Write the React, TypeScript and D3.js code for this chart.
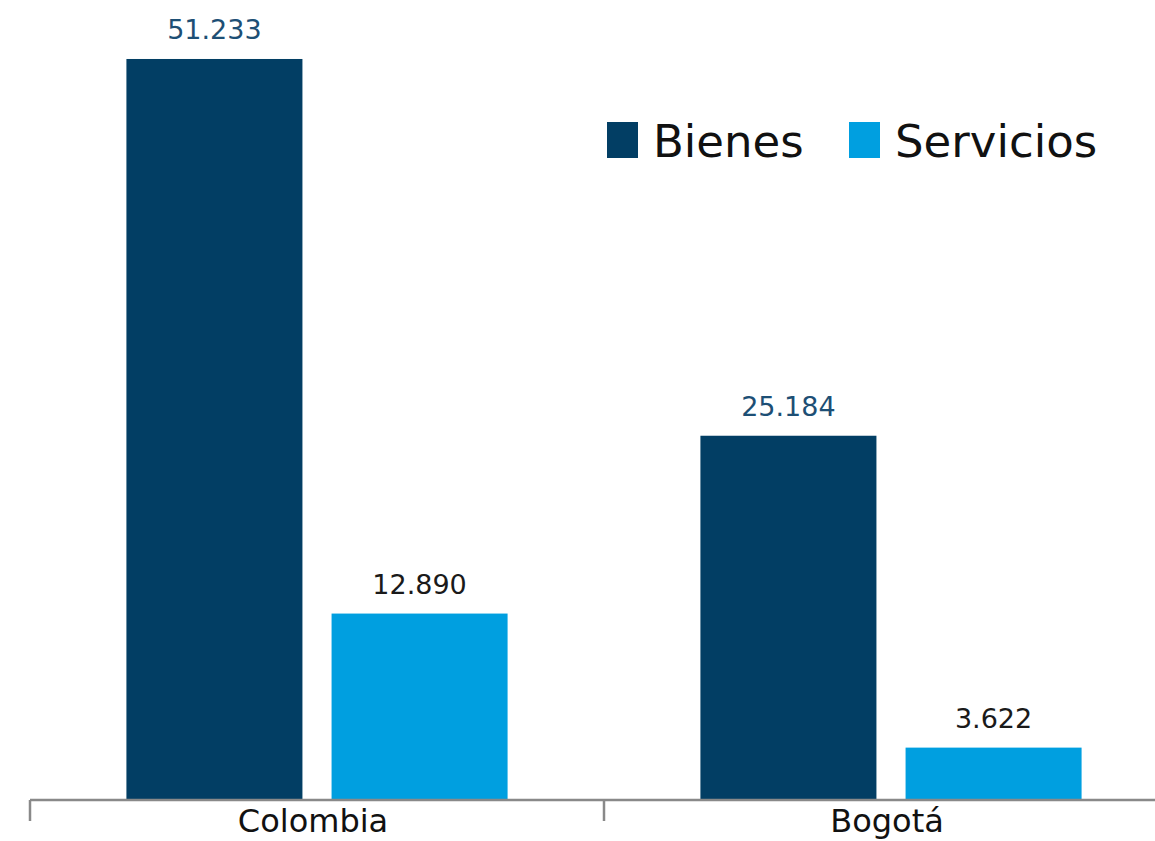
import React from 'react';
import * as d3 from 'd3';

const categories = ['Colombia', 'Bogotá'];
const series = ['Bienes', 'Servicios'];
const bienes = [51233, 25184];
const servicios = [12890, 3622];
const valueLabels = [['51.233', '12.890'], ['25.184', '3.622']];

const colors = ['#023e64', '#009fe0'];
const labelColors = ['#1d4f75', '#1a1a1a'];
const font = '"DejaVu Sans", sans-serif';

export default function App() {
  const width = 1155;
  const height = 841;
  const baseY = 800;

  const x0 = d3.scaleBand().domain(categories).range([30, 1178]).paddingInner(0).paddingOuter(0);
  const x1 = d3.scaleBand().domain(series).range([0, x0.bandwidth()]).paddingInner(0.142).paddingOuter(0.47);
  const y = d3.scaleLinear().domain([0, 55000]).range([baseY, 4.5]);

  const rows = categories.map((c, i) => ({ cat: c, vals: [bienes[i], servicios[i]] }));

  return (
    <svg width={width} height={height} style={{ position: 'absolute', left: 0, top: 0, background: '#fff' }}>
      {rows.map((r, i) => (
        <g key={r.cat} transform={`translate(${x0(r.cat)},0)`}>
          {series.map((s, j) => (
            <g key={s}>
              <rect
                x={x1(s)}
                y={y(r.vals[j])}
                width={x1.bandwidth()}
                height={baseY - y(r.vals[j])}
                fill={colors[j]}
              />
              <text
                x={(x1(s) ?? 0) + x1.bandwidth() / 2}
                y={y(r.vals[j]) - 20}
                textAnchor="middle"
                fontFamily={font}
                fontSize={27}
                fill={labelColors[j]}
              >
                {valueLabels[i][j]}
              </text>
            </g>
          ))}
          <text
            x={x0.bandwidth() / 2 - 4}
            y={832}
            textAnchor="middle"
            fontFamily={font}
            fontSize={32}
            fill="#111"
          >
            {r.cat}
          </text>
        </g>
      ))}
      {/* axis */}
      <line x1={30} x2={1178} y1={baseY} y2={baseY} stroke="#898989" strokeWidth={2.5} />
      {categories.concat(['end']).map((c, i) => {
        const tx = 30 + i * x0.bandwidth();
        return <line key={c} x1={tx} x2={tx} y1={baseY} y2={821} stroke="#898989" strokeWidth={2.5} />;
      })}
      {/* legend */}
      {series.map((s, j) => (
        <g key={s} transform={`translate(${j === 0 ? 607 : 849},122)`}>
          <rect width={31} height={36} fill={colors[j]} />
          <text x={46} y={35} fontFamily={font} fontSize={45} fill="#111">
            {s}
          </text>
        </g>
      ))}
    </svg>
  );
}
